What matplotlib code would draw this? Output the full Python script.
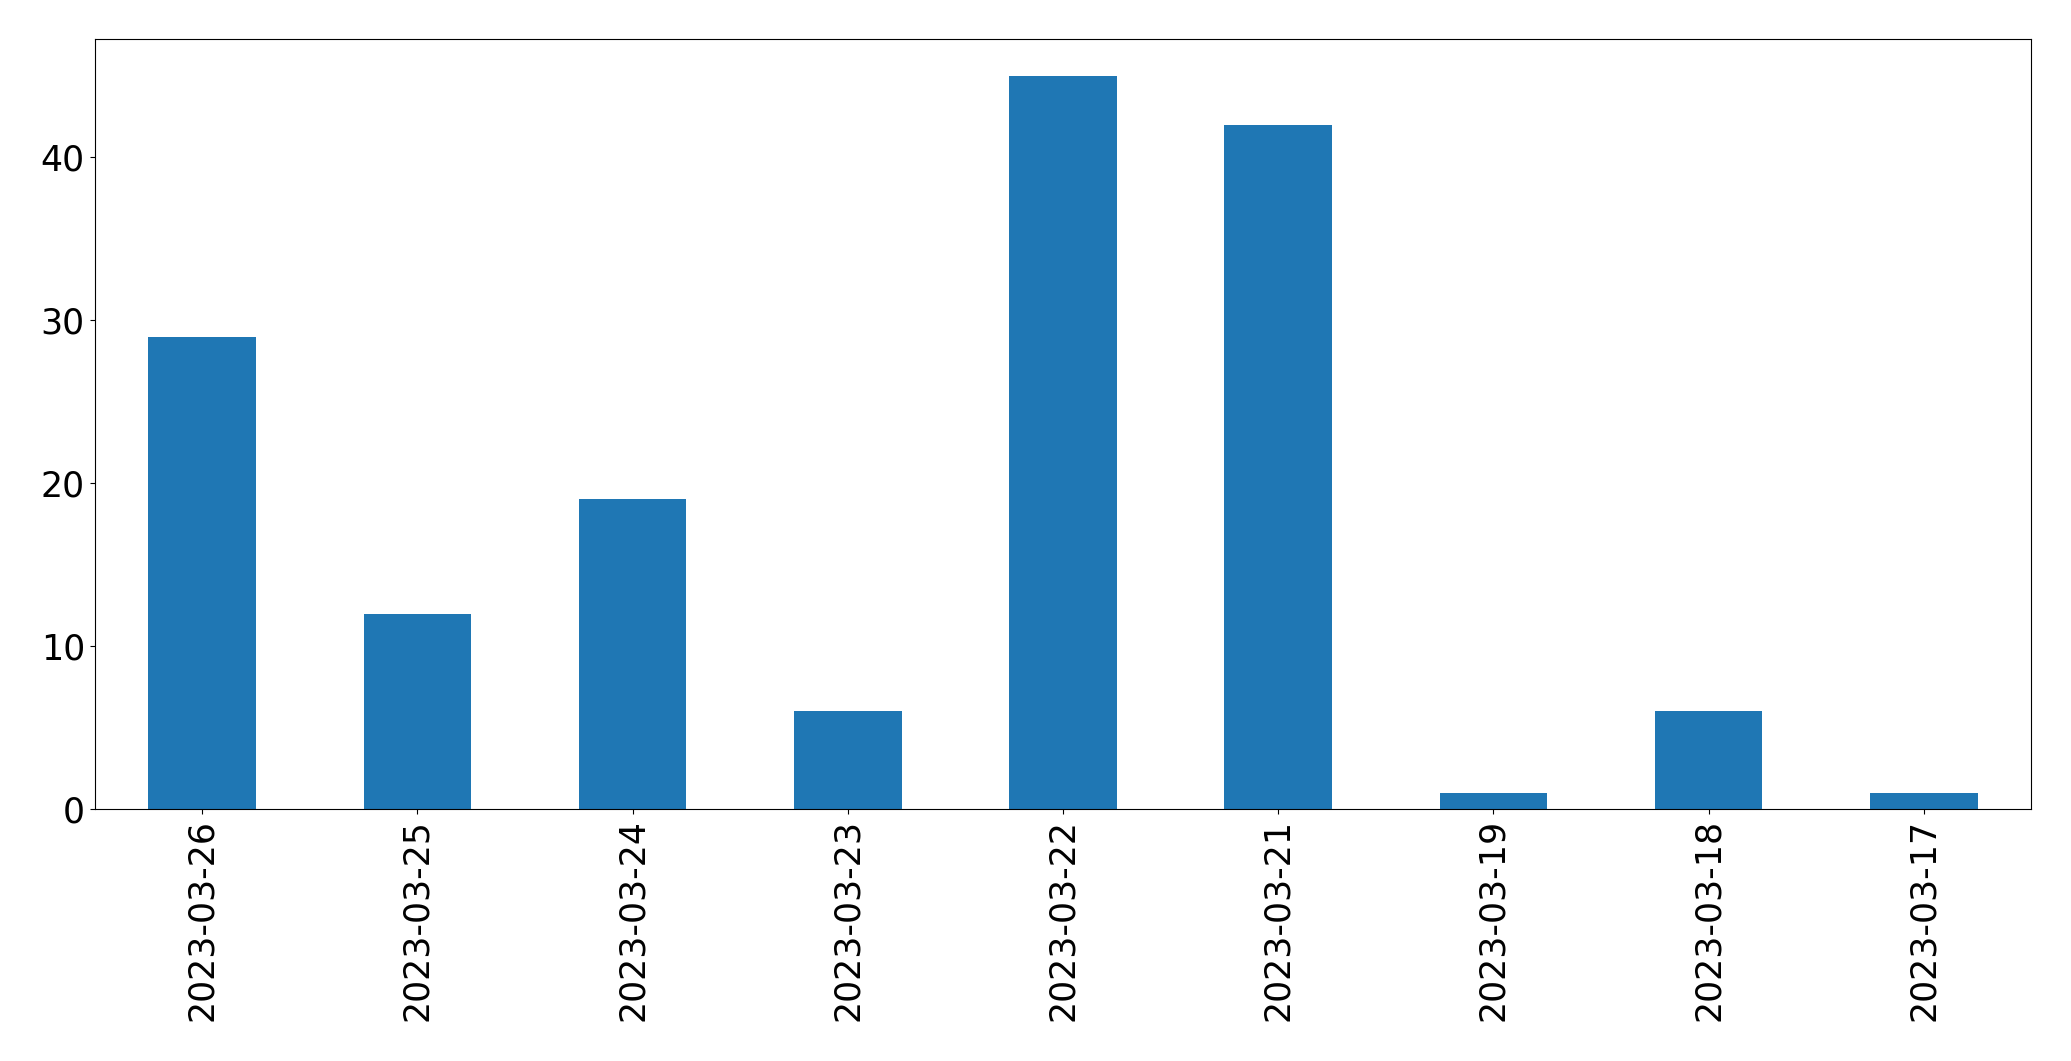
import pandas as pd
import numpy as np
import matplotlib
matplotlib.use('Agg')
import matplotlib.pyplot as plt

dates = ['2023-03-26', '2023-03-25', '2023-03-24', '2023-03-23', '2023-03-22',
         '2023-03-21', '2023-03-19', '2023-03-18', '2023-03-17']
counts = [29, 12, 19, 6, 45, 42, 1, 6, 1]

s = pd.Series(counts, index=dates)

fig = plt.figure(figsize=(20.71, 10.61), dpi=100)
ax = fig.add_axes([0.0457, 0.2375, 0.9352, 0.7255])
s.plot(kind='bar', ax=ax, fontsize=25, color='#1f77b4')
ax.set_xlabel('')

fig.savefig('out.png', dpi=100)
